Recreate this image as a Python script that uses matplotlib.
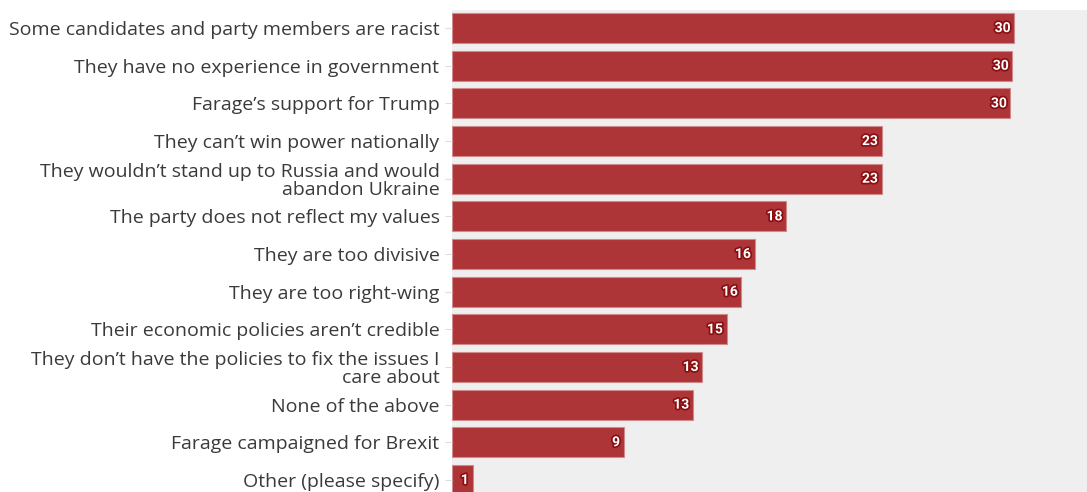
import matplotlib.pyplot as plt
import matplotlib.patheffects as pe

labels = [
    "Some candidates and party members are racist",
    "They have no experience in government",
    "Farage\u2019s support for Trump",
    "They can\u2019t win power nationally",
    "They wouldn\u2019t stand up to Russia and would\nabandon Ukraine",
    "The party does not reflect my values",
    "They are too divisive",
    "They are too right-wing",
    "Their economic policies aren\u2019t credible",
    "They don\u2019t have the policies to fix the issues I\ncare about",
    "None of the above",
    "Farage campaigned for Brexit",
    "Other (please specify)",
]
values = [30.1, 30.0, 29.9, 23.0, 23.0, 17.9, 16.2, 15.5, 14.7, 13.4, 12.9, 9.2, 1.1]
shown = ["30", "30", "30", "23", "23", "18", "16", "16", "15", "13", "13", "9", "1"]

bar_color = "#ad3437"
bg_color = "#efefef"

plt.rcParams['font.family'] = ['Open Sans', 'DejaVu Sans']

fig = plt.figure(figsize=(10.87, 4.92), dpi=100)
ax = fig.add_axes([452 / 1087, 0, 1 - 452 / 1087, 1 - 10 / 492])
ax.set_facecolor(bg_color)

y = list(range(len(labels)))
ax.barh(y, values, height=0.8, color=bar_color, edgecolor="#d08a8c", linewidth=0.8)

# value labels inside the bar ends, white with a dark outline
for yi, v, s in zip(y, values, shown):
    ax.text(v - 0.2, yi, s, ha="right", va="center", color="white",
            fontsize=10, fontweight="bold", family=["Roboto", "DejaVu Sans"],
            path_effects=[pe.withStroke(linewidth=2.5, foreground="#8a0f12")])

ax.set_yticks(y)
ax.set_yticklabels(labels, fontsize=14, color="#3a3a3a", linespacing=1.02)
ax.tick_params(axis="y", length=5, color="#dddddd", pad=4)
ax.set_xticks([])
ax.set_xlim(0, 34)
ax.set_ylim(12.32, -0.48)
for s in ax.spines.values():
    s.set_visible(False)

fig.savefig("out.png", dpi=100)
